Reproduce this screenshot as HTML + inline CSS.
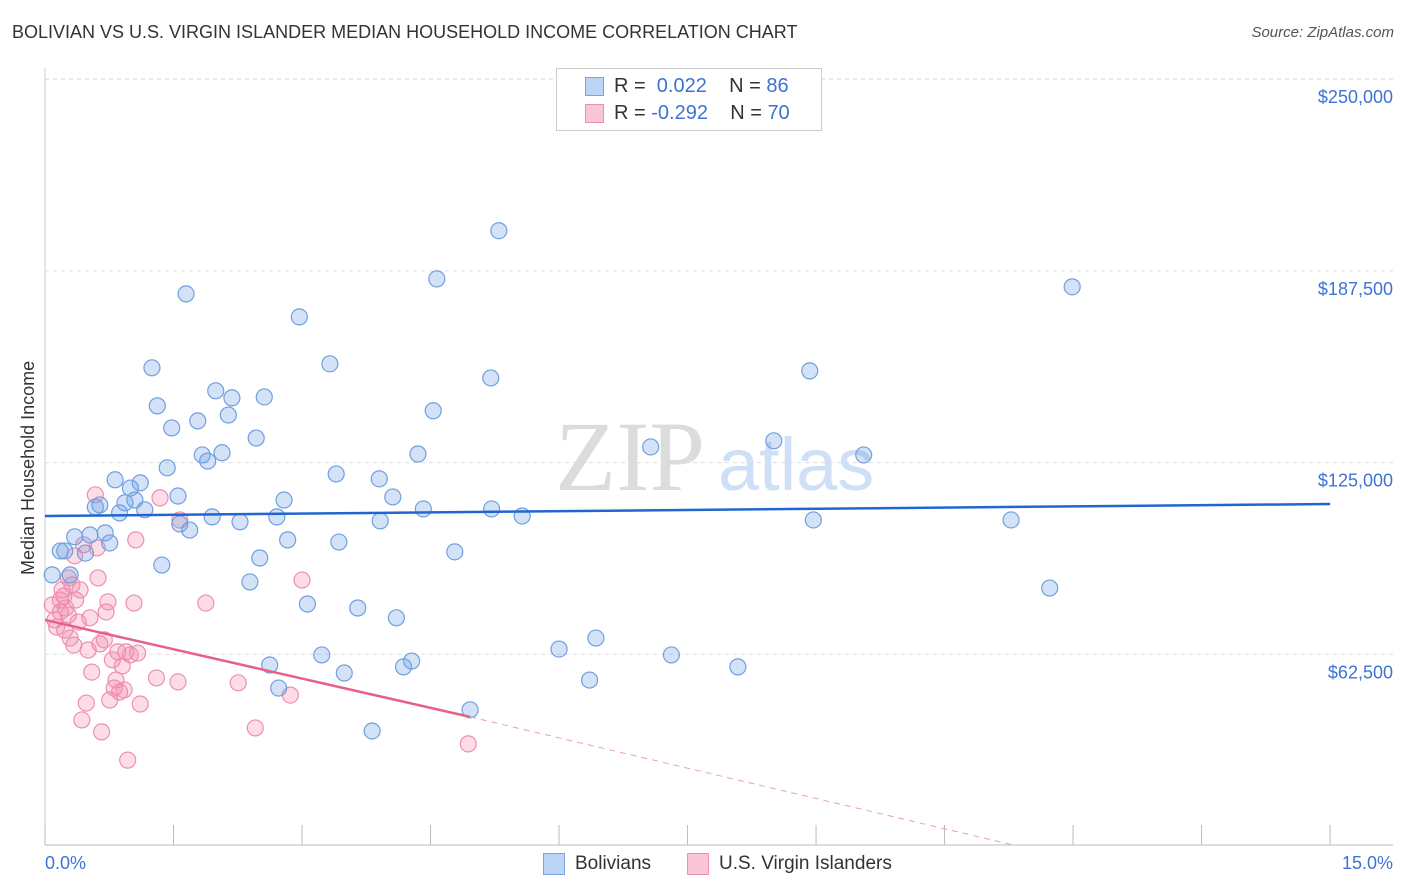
<!DOCTYPE html>
<html><head><meta charset="utf-8"><style>
body{margin:0;background:#fff;font-family:"Liberation Sans",sans-serif;}
#wrap{position:relative;width:1406px;height:892px;}
.t{position:absolute;white-space:nowrap;}
</style></head><body>
<div id="wrap">
<div class="t" style="left:12px;top:22px;font-size:18px;color:#333;">BOLIVIAN VS U.S. VIRGIN ISLANDER MEDIAN HOUSEHOLD INCOME CORRELATION CHART</div>
<div class="t" style="right:12px;top:24px;font-size:15px;color:#555;font-style:italic;">Source: ZipAtlas.com</div>
<svg id="svg" width="1406" height="892" style="position:absolute;left:0;top:0"></svg>
</div>
<script>
const blueX=[0.08,0.17,0.22,0.33,0.28,0.45,0.50,0.56,0.61,0.67,0.72,0.78,0.83,0.89,0.95,1.00,1.06,1.11,1.19,1.25,1.30,1.36,1.41,1.48,1.50,1.57,1.61,1.70,1.75,1.81,1.86,1.90,1.97,2.04,2.08,2.17,2.28,2.35,2.39,2.44,2.50,2.58,2.60,2.66,2.70,2.83,2.92,3.08,3.17,3.24,3.27,3.33,3.48,3.64,3.72,3.73,3.87,3.91,3.99,4.08,4.15,4.21,4.32,4.36,4.56,4.73,4.96,4.97,5.05,5.31,5.72,6.06,6.13,6.74,6.97,7.71,8.11,8.51,8.55,9.11,10.75,11.18,11.43];
const blueY=[88.4,96.2,96.2,100.8,88.4,95.5,101.4,110.5,111.2,102.1,98.8,119.4,108.6,111.9,116.7,112.8,118.4,109.6,155.9,143.5,91.6,123.3,136.3,114.1,105.0,180.0,103.0,138.6,127.5,125.5,107.3,148.4,128.2,140.5,146.1,105.7,86.1,133.0,93.9,146.4,59.0,107.3,51.5,112.8,99.8,172.5,78.9,62.3,157.2,121.3,99.1,56.4,77.6,37.5,119.7,106.0,113.8,74.4,58.4,60.3,127.8,109.9,141.9,184.9,95.9,44.4,152.6,109.9,200.6,107.6,64.2,54.1,67.8,130.1,62.3,58.4,132.1,154.9,106.3,127.5,106.3,84.1,182.3];
const pinkX=[0.08,0.11,0.13,0.17,0.19,0.22,0.23,0.26,0.28,0.30,0.32,0.34,0.37,0.39,0.41,0.43,0.46,0.48,0.50,0.52,0.56,0.58,0.59,0.61,0.63,0.66,0.68,0.70,0.72,0.75,0.77,0.79,0.81,0.83,0.86,0.88,0.90,0.92,0.95,0.99,1.01,1.03,1.06,1.24,1.28,1.48,1.50,1.79,2.15,2.34,2.73,2.86,4.71,0.17,0.21,0.33,0.26];
const pinkY=[78.6,73.7,71.4,76.3,83.5,70.4,77.6,75.3,67.8,85.1,65.5,80.2,73.0,83.5,41.1,98.2,46.6,63.9,74.4,56.7,114.5,97.2,87.4,65.9,37.2,67.2,76.3,79.6,47.6,60.7,51.5,54.1,63.3,50.2,58.7,50.9,63.3,28.0,62.3,79.2,99.8,62.9,46.3,54.8,113.5,53.5,106.3,79.2,53.2,38.5,49.2,86.7,33.3,80.2,81.5,94.6,87.4];
const blueTrendX=[0,14.3], blueTrendY=[107.6,111.5];
const pinkTrendX=[0,4.73], pinkTrendY=[73.7,42.1];
const pinkDashX=[4.73,10.75], pinkDashY=[42.1,0.5];
const yTicks=[62.5,125,187.5,250];
const yTickLabels=["$62,500","$125,000","$187,500","$250,000"];
const xTicks=[0,1.43,2.86,4.29,5.72,7.15,8.58,10.01,11.44,12.87,14.3];

const X0=45,X1=1393,XMAX=15,Y0=846,PPK=191.7/62.5;
const sx=v=>X0+v*(X1-X0)/XMAX, sy=v=>Y0-v*PPK;
const svg=document.getElementById('svg');const NS='http://www.w3.org/2000/svg';
function el(t,a){const e=document.createElementNS(NS,t);for(const k in a)e.setAttribute(k,a[k]);svg.appendChild(e);return e;}
yTicks.forEach((v,i)=>{
 const g=el('line',{x1:X0,x2:X1,y1:sy(v),y2:sy(v),stroke:'#ddd','stroke-dasharray':'4,4'});
 
 
 const t=el('text',{x:1393,y:sy(v)+24,'text-anchor':'end','font-size':18,fill:'#3d74d4','font-family':'Liberation Sans'});
 t.textContent=yTickLabels[i];
 
 
});
const tg=el('line',{x1:X0,x2:X1,y1:79,y2:79,stroke:'#ddd','stroke-dasharray':'4,4'});


const ax=el('line',{x1:X0,x2:X1,y1:845,y2:845,stroke:'#bbb'});


const ay=el('line',{x1:X0,x2:X0,y1:68,y2:845,stroke:'#ccc'});


xTicks.forEach(v=>{const l=el('line',{x1:sx(v),x2:sx(v),y1:825,y2:845,stroke:'#bbb'});
 
 });
const w1=el('text',{x:555,y:490,'font-size':100,fill:'#dcdcdc','font-family':'Liberation Serif'});w1.textContent='ZIP';


const w2=el('text',{x:718,y:490,'font-size':74,fill:'#cfdff5','font-family':'Liberation Sans'});w2.textContent='atlas';


pinkX.forEach((v,i)=>{const c=el('circle',{cx:sx(v),cy:sy(pinkY[i]),r:8,fill:'rgba(242,140,175,0.3)',stroke:'#ee8fb0','stroke-width':1.2});
 
 });
blueX.forEach((v,i)=>{const c=el('circle',{cx:sx(v),cy:sy(blueY[i]),r:8,fill:'rgba(110,160,230,0.3)',stroke:'#6f9fe0','stroke-width':1.2});
 
 });
const bl=el('line',{x1:sx(blueTrendX[0]),y1:sy(blueTrendY[0]),x2:sx(blueTrendX[1]),y2:sy(blueTrendY[1]),stroke:'#2166d0','stroke-width':2.5});


const pl=el('line',{x1:sx(pinkTrendX[0]),y1:sy(pinkTrendY[0]),x2:sx(pinkTrendX[1]),y2:sy(pinkTrendY[1]),stroke:'#e8608a','stroke-width':2.5});


const pd=el('line',{x1:sx(pinkDashX[0]),y1:sy(pinkDashY[0]),x2:sx(pinkDashX[1]),y2:sy(pinkDashY[1]),stroke:'#e8a0b8','stroke-width':1,'stroke-dasharray':'6,5'});


</script>
<div class="t" style="left:18px;top:575px;transform:rotate(-90deg);transform-origin:0 0;font-size:18px;color:#333;">Median Household Income</div>
<div class="t" style="left:45px;top:853px;font-size:18px;color:#3d74d4;">0.0%</div>
<div class="t" style="right:13px;top:853px;font-size:18px;color:#3d74d4;">15.0%</div>
<div style="position:absolute;left:556px;top:68px;width:264px;height:61px;border:1px solid #ccc;background:#fff;font-size:20px;">
 <div style="position:absolute;left:28px;top:8px;width:17px;height:17px;background:#bcd4f5;border:1px solid #7aa5e3;"></div>
 <div class="t" style="left:57px;top:6px;color:#333;">R = &nbsp;<span style="color:#3d74d4">0.022</span>&nbsp;&nbsp;&nbsp; N = <span style="color:#3d74d4">86</span></div>
 <div style="position:absolute;left:28px;top:35px;width:17px;height:17px;background:#f9c6d6;border:1px solid #ee8fb0;"></div>
 <div class="t" style="left:57px;top:33px;color:#333;">R = <span style="color:#3d74d4">-0.292</span>&nbsp;&nbsp;&nbsp; N = <span style="color:#3d74d4">70</span></div>
</div>
<div style="position:absolute;left:543px;top:853px;width:20px;height:20px;background:#bcd4f5;border:1px solid #7aa5e3;"></div>
<div class="t" style="left:575px;top:853px;font-size:19px;color:#333;">Bolivians</div>
<div style="position:absolute;left:687px;top:853px;width:20px;height:20px;background:#f9c6d6;border:1px solid #ee8fb0;"></div>
<div class="t" style="left:719px;top:853px;font-size:19px;color:#333;">U.S. Virgin Islanders</div>
</body></html>
